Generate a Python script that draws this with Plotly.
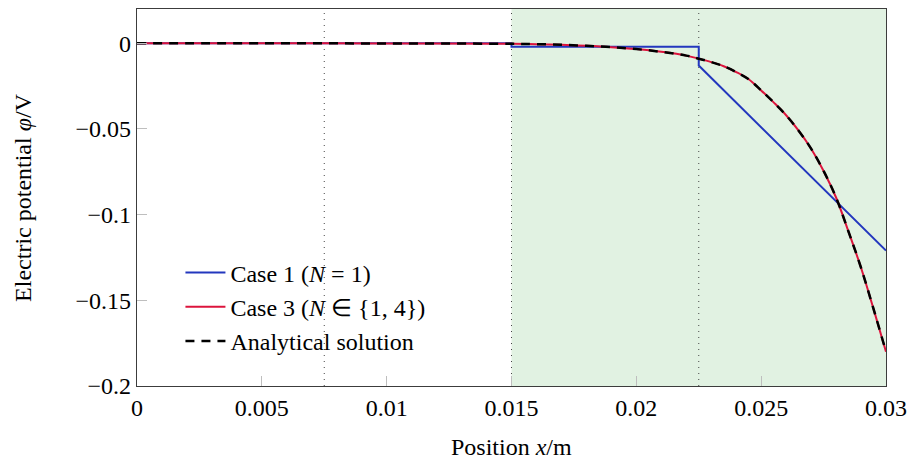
import plotly.graph_objects as go

# ---- data ----
x_case1 = [0.0, 0.015, 0.015, 0.0225, 0.0225, 0.03]
phi_case1 = [0.0, 0.0, -0.002, -0.002, -0.013, -0.121]

x_ana = [0.0, 0.005, 0.010, 0.015, 0.016, 0.017, 0.018, 0.019, 0.020, 0.021, 0.022,
         0.0225, 0.023, 0.0235, 0.024, 0.0245, 0.025, 0.0255, 0.026, 0.0265, 0.027,
         0.0275, 0.028, 0.0285, 0.029, 0.0295, 0.030]
phi_ana = [0.0, 0.0, -0.0001, -0.0003, -0.0005, -0.0009, -0.0015, -0.0023, -0.0034, -0.0050, -0.0072,
           -0.0090, -0.0110, -0.0134, -0.0168, -0.0210, -0.0275, -0.0345, -0.0420, -0.0510, -0.0615,
           -0.0745, -0.0900, -0.1100, -0.1310, -0.1550, -0.1800]

x_case3 = list(x_ana)
phi_case3 = list(phi_ana)

boundaries = [0.0075, 0.015, 0.0225]
shaded_from = 0.015

x_ticks = [0, 0.005, 0.01, 0.015, 0.02, 0.025, 0.03]
x_ticktext = ["0", "0.005", "0.01", "0.015", "0.02", "0.025", "0.03"]
y_ticks = [0, -0.05, -0.1, -0.15, -0.2]
y_ticktext = ["0", "\u22120.05", "\u22120.1", "\u22120.15", "\u22120.2"]

FONT = "Liberation Serif"
FS = 24

fig = go.Figure()
fig.add_trace(go.Scatter(x=x_case1, y=phi_case1, mode="lines",
                         line=dict(color="rgb(35,55,190)", width=2),
                         name="Case 1 (<i>N</i> = 1)"))
fig.add_trace(go.Scatter(x=x_case3, y=phi_case3, mode="lines",
                         line=dict(color="rgb(220,20,60)", width=2, shape="spline"),
                         name="Case 3 (<i>N</i> \u2208 {1, 4})"))
fig.add_trace(go.Scatter(x=x_ana, y=phi_ana, mode="lines",
                         line=dict(color="black", width=2.5, dash="9px,7px", shape="spline"),
                         name="Analytical solution"))

fig.add_shape(type="rect", xref="x", yref="paper", x0=shaded_from, x1=x_ticks[-1],
              y0=0, y1=1, fillcolor="rgb(225,242,226)", line=dict(width=0), layer="below")
for b in boundaries:
    fig.add_shape(type="line", xref="x", yref="paper", x0=b, x1=b, y0=0, y1=1,
                  line=dict(color="rgb(70,70,70)", width=1, dash="1px,5px"), layer="below")

axis_common = dict(showgrid=False, zeroline=False, showline=True, mirror=True,
                   linecolor="rgb(60,60,60)", linewidth=1.3,
                   ticks="inside", ticklen=10, tickcolor="rgb(190,190,190)", tickwidth=1.3,
                   tickfont=dict(family=FONT, size=FS, color="black"))

fig.update_xaxes(range=[0, 0.03], tickvals=x_ticks, ticktext=x_ticktext, **axis_common)
fig.update_yaxes(range=[-0.2, 0.02], tickvals=y_ticks, ticktext=y_ticktext, **axis_common)

fig.add_annotation(text="Position <i>x</i>/m", xref="paper", yref="paper",
                   x=0.5, y=-0.161, xanchor="center", yanchor="middle", showarrow=False,
                   font=dict(family=FONT, size=FS, color="black"))
fig.add_annotation(text="Electric potential <i>φ</i>/V", xref="paper", yref="paper",
                   x=-0.153, y=0.5, xanchor="center", yanchor="middle", textangle=-90,
                   showarrow=False, font=dict(family=FONT, size=FS, color="black"))

fig.update_layout(
    width=915, height=466,
    margin=dict(l=137, r=27, t=8, b=80),
    paper_bgcolor="white", plot_bgcolor="white",
    font=dict(family=FONT, size=FS, color="black"),
    showlegend=True,
    legend=dict(x=0.058, y=0.06, xanchor="left", yanchor="bottom",
                bgcolor="rgba(0,0,0,0)", borderwidth=0,
                font=dict(family=FONT, size=FS, color="black"),
                tracegroupgap=0, itemwidth=40),
)

fig.write_html("out.html", config={"displayModeBar": False},
               post_script="document.body.style.margin='0px';document.body.style.overflow='hidden';")
